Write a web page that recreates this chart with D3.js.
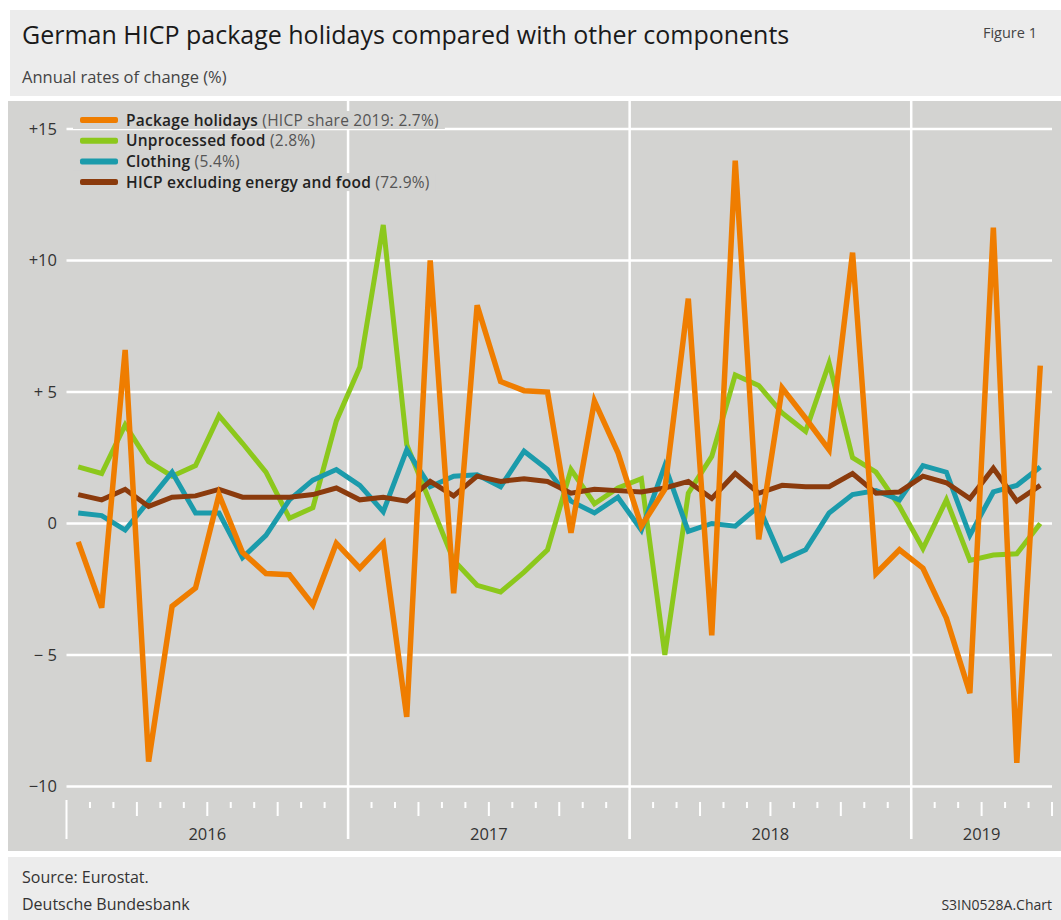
<!DOCTYPE html>
<html>
<head>
<meta charset="utf-8">
<script src="https://cdn.jsdelivr.net/npm/d3@7"></script>
<style>
  body { margin: 0; background: #fff; }
  svg { display: block; font-family: "Open Sans", "Noto Sans", sans-serif; }
</style>
</head>
<body>
<div id="chart"></div>
<script>
// monthly, Jan 2016 - Jun 2019
const years = ["2016", "2017", "2018", "2019"];

const packageHolidays = [
  -0.7, -3.2, 6.6, -9.05, -3.15, -2.45, 1.1, -1.1, -1.9, -1.95, -3.1, -0.75,
  -1.7, -0.75, -7.35, 10.0, -2.65, 8.3, 5.4, 5.05, 5.0, -0.35, 4.65, 2.7,
  -0.1, 1.3, 8.55, -4.25, 13.8, -0.6, 5.15, 4.0, 2.8, 10.3, -1.9, -1.0,
  -1.7, -3.6, -6.45, 11.25, -9.1, 6.0
];
const unprocessedFood = [
  2.15, 1.9, 3.75, 2.35, 1.8, 2.2, 4.1, 3.05, 1.95, 0.2, 0.6, 3.9,
  5.95, 11.35, 3.0, 0.8, -1.4, -2.35, -2.6, -1.85, -1.0, 2.05, 0.75, 1.35,
  1.7, -5.0, 1.15, 2.55, 5.65, 5.25, 4.2, 3.5, 6.1, 2.5, 1.95, 0.65,
  -0.95, 0.9, -1.4, -1.2, -1.15, 0.0
];
const clothing = [
  0.4, 0.3, -0.25, 0.85, 1.95, 0.4, 0.4, -1.3, -0.45, 0.9, 1.65, 2.05,
  1.45, 0.45, 2.8, 1.4, 1.8, 1.85, 1.4, 2.75, 2.05, 0.85, 0.4, 1.0,
  -0.25, 2.2, -0.3, 0.0, -0.1, 0.65, -1.4, -1.0, 0.4, 1.1, 1.25, 0.9,
  2.2, 1.95, -0.45, 1.2, 1.45, 2.15
];
const hicpCore = [
  1.1, 0.9, 1.3, 0.65, 1.0, 1.05, 1.3, 1.0, 1.0, 1.0, 1.1, 1.35,
  0.9, 1.0, 0.85, 1.6, 1.05, 1.8, 1.6, 1.7, 1.6, 1.15, 1.3, 1.25,
  1.2, 1.35, 1.6, 0.95, 1.9, 1.15, 1.45, 1.4, 1.4, 1.9, 1.15, 1.2,
  1.8, 1.55, 0.95, 2.1, 0.85, 1.45
];

const seriesNames = ["Package holidays", "Unprocessed food", "Clothing", "HICP excluding energy and food"];
const seriesNotes = ["(HICP share 2019: 2.7%)", "(2.8%)", "(5.4%)", "(72.9%)"];
const seriesColors = ["#ef7d00", "#8cc81c", "#1b9bab", "#8b3b0d"];

const yTicks = [15, 10, 5, 0, -5, -10];
const yTickLabels = ["+15", "+10", "+ 5", "0", "\u2212 5", "\u221210"];

const width = 1061;
const height = 920;
const nMonths = packageHolidays.length;

const svg = d3
  .select("#chart")
  .append("svg")
  .attr("width", width)
  .attr("height", height);

// header, panel, footer
svg.append("rect").attr("x", 10).attr("y", 10).attr("width", width - 10).attr("height", 86).attr("fill", "#ececec");
svg.append("rect").attr("x", 8).attr("y", 101).attr("width", width - 8).attr("height", 750).attr("fill", "#d3d3d1");
svg.append("rect").attr("x", 8).attr("y", 857).attr("width", width - 8).attr("height", 63).attr("fill", "#ececec");

svg.append("text").attr("x", 22).attr("y", 44)
  .attr("font-size", 25).attr("fill", "#1a1a1a")
  .text("German HICP package holidays compared with other components");
svg.append("text").attr("x", 1037).attr("y", 38).attr("text-anchor", "end")
  .attr("font-size", 14.5).attr("fill", "#444").text("Figure 1");
svg.append("text").attr("x", 22).attr("y", 83)
  .attr("font-size", 16.5).attr("fill", "#444").text("Annual rates of change (%)");

svg.append("text").attr("x", 22).attr("y", 883)
  .attr("font-size", 16).attr("fill", "#333").text("Source: Eurostat.");
svg.append("text").attr("x", 22).attr("y", 910)
  .attr("font-size", 16).attr("fill", "#333").text("Deutsche Bundesbank");
svg.append("text").attr("x", 1052).attr("y", 910).attr("text-anchor", "end")
  .attr("font-size", 14).attr("fill", "#333").text("S3IN0528A.Chart");

const x = d3.scaleLinear().domain([0, nMonths]).range([66.5, 1052]);
const y = d3.scaleLinear().domain([-10, 15]).range([786.5, 129]);

// horizontal grid
svg.append("g")
  .selectAll("line")
  .data(yTicks)
  .join("line")
  .attr("x1", x(0))
  .attr("x2", x(nMonths))
  .attr("y1", (d) => y(d))
  .attr("y2", (d) => y(d))
  .attr("stroke", "#fff")
  .attr("stroke-width", 2.5);

svg.append("g")
  .selectAll("text")
  .data(yTicks)
  .join("text")
  .attr("x", 57)
  .attr("y", (d) => y(d) + 5.5)
  .attr("text-anchor", "end")
  .attr("font-size", 16.5)
  .attr("fill", "#333")
  .text((d, i) => yTickLabels[i]);

// year separators
svg.append("g")
  .selectAll("line")
  .data(d3.range(1, years.length))
  .join("line")
  .attr("x1", (d) => x(d * 12))
  .attr("x2", (d) => x(d * 12))
  .attr("y1", 101)
  .attr("y2", 839)
  .attr("stroke", "#fff")
  .attr("stroke-width", 2.5);

// month ticks
svg.append("g")
  .selectAll("line")
  .data(d3.range(0, nMonths + 1))
  .join("line")
  .attr("x1", (d) => x(d))
  .attr("x2", (d) => x(d))
  .attr("y1", (d) => (d % 12 === 0 ? 800 : 802))
  .attr("y2", (d) => (d % 12 === 0 ? 839 : d % 3 === 0 ? 816 : 808))
  .attr("stroke", "#fff")
  .attr("stroke-width", 2);

svg.append("g")
  .selectAll("text")
  .data(years)
  .join("text")
  .attr("x", (d, i) => (x(i * 12) + x(Math.min((i + 1) * 12, nMonths))) / 2)
  .attr("y", 840)
  .attr("text-anchor", "middle")
  .attr("font-size", 16.5)
  .attr("fill", "#333")
  .text((d) => d);

// legend
const legend = svg.append("g");
seriesNames.forEach((name, i) => {
  const ly = 120 + i * 20.7;
  const g = legend.append("g");
  const bg = g.append("rect").attr("fill", "#d3d3d1");
  g.append("rect")
    .attr("x", 80).attr("y", ly - 3).attr("width", 38).attr("height", 6)
    .attr("rx", 2).attr("fill", seriesColors[i]);
  const t = g.append("text").attr("x", 126).attr("y", ly + 5.5)
    .attr("font-size", 15.5).attr("letter-spacing", 0.25);
  t.append("tspan").attr("font-weight", 600).attr("fill", "#222").text(name);
  t.append("tspan").attr("fill", "#555").text(" " + seriesNotes[i]);
  const w = t.node().getComputedTextLength();
  bg.attr("x", 73).attr("y", ly - 9).attr("width", 126 + w + 6 - 73).attr("height", 18);
});

// lines
const line = d3.line().x((d, i) => x(i + 0.5)).y((d) => y(d));
const drawOrder = [unprocessedFood, clothing, hicpCore, packageHolidays];
const drawColors = [seriesColors[1], seriesColors[2], seriesColors[3], seriesColors[0]];
const drawWidths = [5, 5, 5, 5.5];

svg.append("g")
  .selectAll("path")
  .data(drawOrder)
  .join("path")
  .attr("d", line)
  .attr("fill", "none")
  .attr("stroke", (d, i) => drawColors[i])
  .attr("stroke-width", (d, i) => drawWidths[i])
  .attr("stroke-linejoin", "miter");
</script>
</body>
</html>
